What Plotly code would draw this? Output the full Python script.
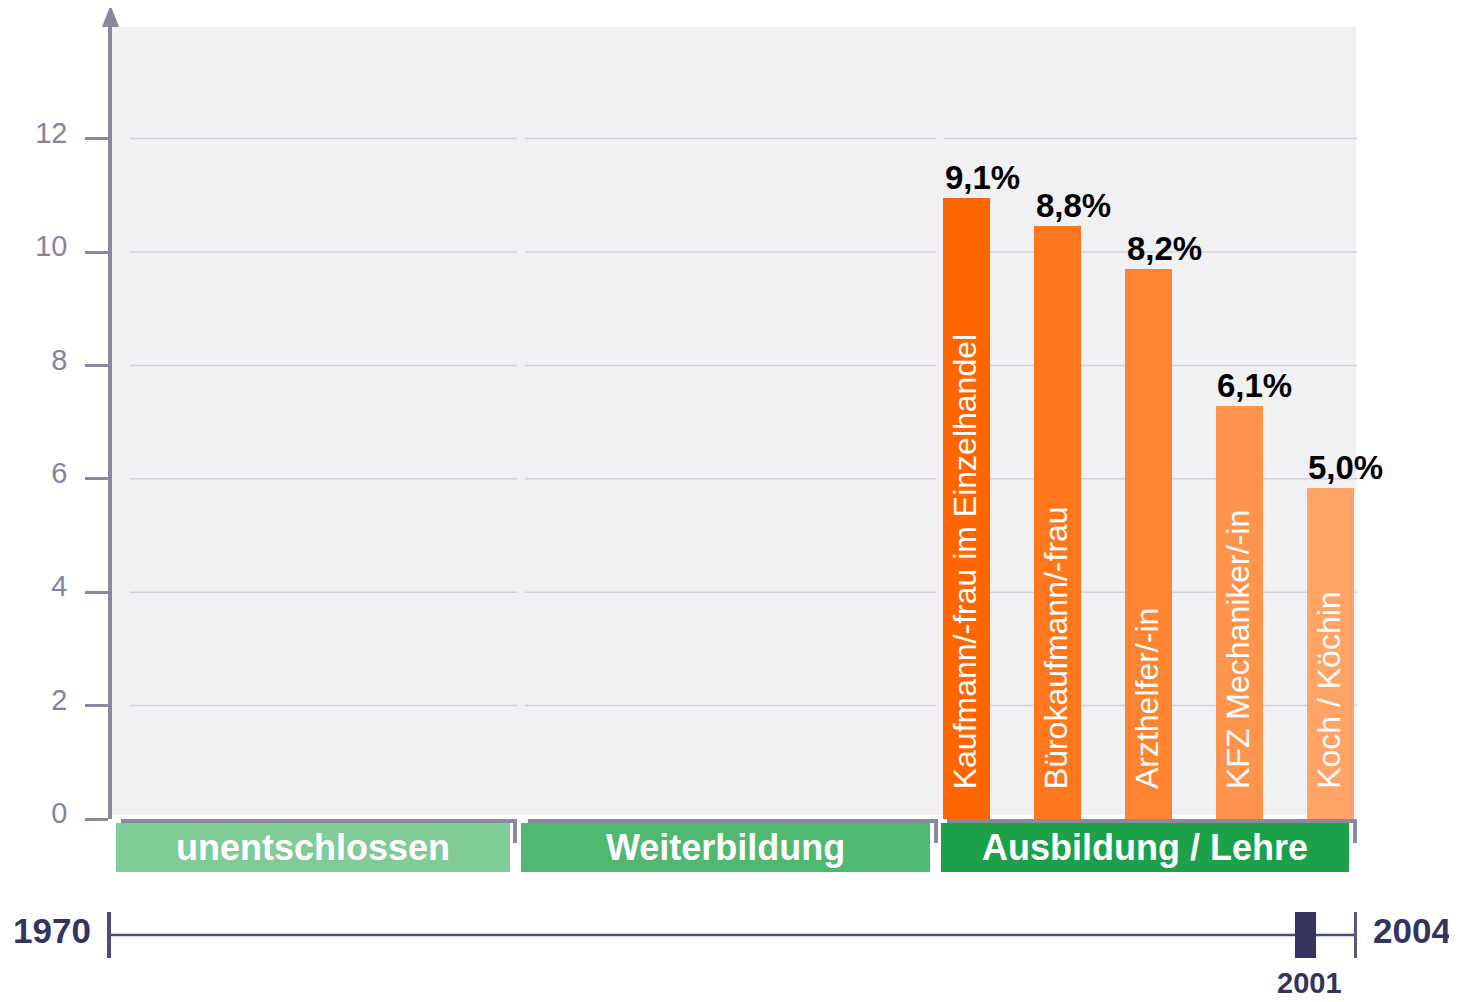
import plotly.graph_objects as go

# ---------------- data ----------------
categories = ["Kaufmann/-frau im Einzelhandel", "Bürokaufmann/-frau", "Arzthelfer/-in",
              "KFZ Mechaniker/-in", "Koch / Köchin"]
bar_values = [10.96, 10.46, 9.70, 7.29, 5.83]
value_labels = ["9,1%", "8,8%", "8,2%", "6,1%", "5,0%"]
bar_colors = ["#ff6600", "#ff771c", "#ff8432", "#ff944d", "#ffa366"]
y_ticks = [0, 2, 4, 6, 8, 10, 12]
groups = ["unentschlossen", "Weiterbildung", "Ausbildung / Lehre"]
group_colors = ["#80cb96", "#4fb871", "#1ca149"]
timeline_start = "1970"
timeline_end = "2004"
timeline_mark = "2001"

# ---------------- layout geometry (pixels, page coordinates) ----------------
OFF = 8                      # default body margin of the html page
W, H = 1457 - OFF, 1002 - 2 * OFF
L, R, T, B = 112, 1356, 27, 819
UNIT = 56.7  # px per y unit


def px(x):
    return (x - L) / (R - L)


def py(y):
    return (B - y) / (B - T)


FONT = "Liberation Sans, Arial, Helvetica, sans-serif"
AXIS_C = "#8a88a0"
GRID_C = "#d4d2dc"
NAVY = "#34345e"

fig = go.Figure()
fig.add_trace(go.Bar(
    x=categories, y=bar_values,
    marker=dict(color=bar_colors, line=dict(width=0)),
    width=0.517, hoverinfo="skip", showlegend=False,
))

shapes = []
# plot background
shapes.append(dict(type="rect", xref="paper", yref="paper", x0=0, x1=1, y0=py(815), y1=1,
                   fillcolor="#f1f1f4", line=dict(width=0), layer="below"))
# segmented gridlines
grid_segments = [(130, 517), (525, 936), (944, 1357)]
for v in y_ticks[1:]:
    for a, b in grid_segments:
        shapes.append(dict(type="line", xref="paper", yref="y", x0=px(a), x1=px(b), y0=v, y1=v,
                           line=dict(color=GRID_C, width=1.5), layer="below"))
# y-axis arrow head
shapes.append(dict(type="path", xref="paper", yref="paper",
                   path=f"M {px(102)},{py(27)} L {px(110.5)},{py(5)} L {px(119)},{py(27)} Z",
                   fillcolor=AXIS_C, line=dict(width=0)))
# group brackets + boxes
brackets = [(121, 517), (528, 938), (947, 1357)]
boxes = [(116, 510), (521, 930), (941, 1349)]
for (a, b), (c, d), name, col in zip(brackets, boxes, groups, group_colors):
    shapes.append(dict(type="line", xref="paper", yref="paper", x0=px(a), x1=px(b),
                       y0=py(821), y1=py(821), line=dict(color=AXIS_C, width=4)))
    shapes.append(dict(type="line", xref="paper", yref="paper", x0=px(b - 2), x1=px(b - 2),
                       y0=py(819), y1=py(843), line=dict(color=AXIS_C, width=4)))
    shapes.append(dict(type="rect", xref="paper", yref="paper", x0=px(c), x1=px(d),
                       y0=py(872), y1=py(823), fillcolor=col, line=dict(width=0)))
# timeline
shapes.append(dict(type="line", xref="paper", yref="paper", x0=px(110), x1=px(1355),
                   y0=py(935), y1=py(935), line=dict(color="#4d4b78", width=2.5)))
shapes.append(dict(type="line", xref="paper", yref="paper", x0=px(109), x1=px(109),
                   y0=py(912), y1=py(958), line=dict(color="#4d4b78", width=4)))
shapes.append(dict(type="line", xref="paper", yref="paper", x0=px(1355.5), x1=px(1355.5),
                   y0=py(912), y1=py(958), line=dict(color="#5a5880", width=3)))
shapes.append(dict(type="rect", xref="paper", yref="paper", x0=px(1295), x1=px(1316),
                   y0=py(958), y1=py(912), fillcolor=NAVY, line=dict(width=0)))

annotations = []
for cat, val, lab in zip(categories, bar_values, value_labels):
    annotations.append(dict(x=cat, y=val, xref="x", yref="y", text=f"<b>{lab}</b>",
                            showarrow=False, xanchor="left", yanchor="bottom",
                            xshift=-24, yshift=0,
                            font=dict(family=FONT, size=33, color="#000000")))
    annotations.append(dict(x=cat, y=0, xref="x", yref="y", text=cat, textangle=-90,
                            showarrow=False, xanchor="center", yanchor="bottom",
                            xshift=-2, yshift=28,
                            font=dict(family=FONT, size=32, color="#ffffff")))
for (c, d), name in zip(boxes, groups):
    annotations.append(dict(x=px((c + d) / 2), y=py(847.5), xref="paper", yref="paper",
                            text=f"<b>{name}</b>", showarrow=False,
                            xanchor="center", yanchor="middle",
                            font=dict(family=FONT, size=36, color="#ffffff")))
annotations.append(dict(x=px(93), y=py(930), xref="paper", yref="paper",
                        text=f"<b>{timeline_start}</b>", showarrow=False,
                        xanchor="right", yanchor="middle",
                        font=dict(family=FONT, size=35, color=NAVY)))
annotations.append(dict(x=px(1371), y=py(930), xref="paper", yref="paper",
                        text=f"<b>{timeline_end}</b>", showarrow=False,
                        xanchor="left", yanchor="middle",
                        font=dict(family=FONT, size=35, color=NAVY)))
annotations.append(dict(x=px(1309.5), y=py(983), xref="paper", yref="paper",
                        text=f"<b>{timeline_mark}</b>", showarrow=False,
                        xanchor="center", yanchor="middle",
                        font=dict(family=FONT, size=29, color=NAVY)))

fig.update_layout(
    width=W, height=H, autosize=False,
    margin=dict(l=L - OFF, r=W - (R - OFF), t=T - OFF, b=H - (B - OFF), pad=0),
    paper_bgcolor="#ffffff", plot_bgcolor="rgba(0,0,0,0)",
    shapes=shapes, annotations=annotations,
    showlegend=False, bargap=0,
    font=dict(family=FONT),
)
fig.update_xaxes(
    type="category", range=[-9.404, 4.282], showticklabels=False, ticks="",
    showline=False, showgrid=False, zeroline=False, fixedrange=True,
)
fig.update_yaxes(
    range=[0, (B - T) / UNIT], tickvals=y_ticks, ticktext=[str(v) for v in y_ticks],
    ticks="outside", ticklen=23, tickwidth=3, tickcolor=AXIS_C,
    showline=True, linewidth=3.5, linecolor=AXIS_C,
    showgrid=False, zeroline=False, ticklabelstandoff=12, ticklabelshift=-6,
    tickfont=dict(family=FONT, size=29, color="#8583a0"), fixedrange=True,
)

fig.write_html("out.html")
